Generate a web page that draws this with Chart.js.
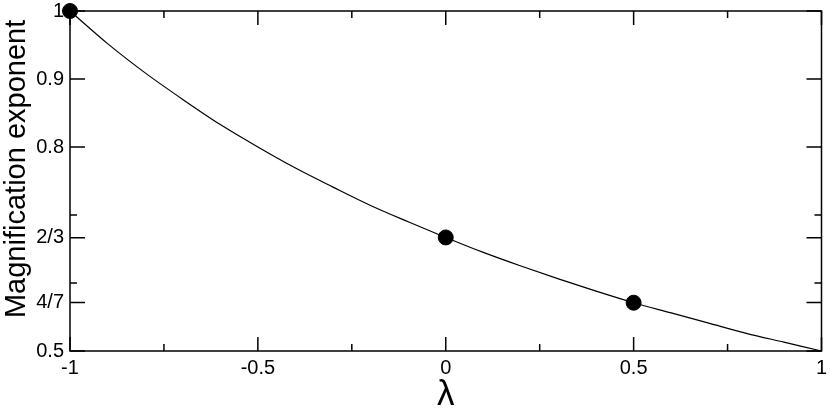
<!DOCTYPE html>
<html>
<head>
<meta charset="utf-8">
<script src="https://cdn.jsdelivr.net/npm/chart.js@4/dist/chart.umd.min.js"></script>
<style>
  html, body { margin: 0; padding: 0; background: #fff; }
  #wrap { width: 830px; height: 411px; }
</style>
</head>
<body>
<div id="wrap"><canvas id="myChart"></canvas></div>
<script>
// curve
const lambdaValues = [-1, -0.9, -0.8, -0.7, -0.6, -0.5, -0.4, -0.3, -0.2, -0.1, 0, 0.1, 0.2, 0.3, 0.4, 0.5, 0.6, 0.7, 0.8, 0.9, 1];
const exponentValues = [1.000, 0.952, 0.909, 0.870, 0.833, 0.800, 0.769, 0.741, 0.714, 0.690, 0.667, 0.645, 0.625, 0.606, 0.588, 0.571, 0.556, 0.541, 0.526, 0.513, 0.500];

// the three marked points
const markLambda = [-1, 0, 0.5];
const markExponent = [1, 0.667, 0.571];

// ticks
const xMajorTicks = [-1, -0.5, 0, 0.5, 1];
const xMajorLabels = ['-1', '-0.5', '0', '0.5', '1'];
const xMinorTicks = [-0.75, -0.25, 0.25, 0.75];
const yMajorTicks = [0.5, 4 / 7, 2 / 3, 0.8, 0.9, 1];
const yMajorLabels = ['0.5', '4/7', '2/3', '0.8', '0.9', '1'];
const yMinorTicks = [0.6, 0.7];

const FONT = 'Liberation Sans, Arial, Helvetica, sans-serif';

// frame plus inward ticks on all four sides
const framePlugin = {
    id: 'frame',
    beforeDatasetsDraw(chart) {
        const { ctx, chartArea: a, scales: { x, y } } = chart;
        ctx.save();
        ctx.strokeStyle = '#000';
        ctx.lineWidth = 1.5;
        ctx.strokeRect(a.left, a.top, a.right - a.left, a.bottom - a.top);
        ctx.beginPath();
        const xt = (v, len) => {
            const px = x.getPixelForValue(v);
            ctx.moveTo(px, a.bottom); ctx.lineTo(px, a.bottom - len);
            ctx.moveTo(px, a.top); ctx.lineTo(px, a.top + len);
        };
        const yt = (v, len) => {
            const py = y.getPixelForValue(v);
            ctx.moveTo(a.left, py); ctx.lineTo(a.left + len, py);
            ctx.moveTo(a.right, py); ctx.lineTo(a.right - len, py);
        };
        xMajorTicks.forEach(v => xt(v, 14));
        xMinorTicks.forEach(v => xt(v, 7));
        yMajorTicks.forEach(v => yt(v, 15));
        yMinorTicks.forEach(v => yt(v, 7));
        ctx.stroke();
        ctx.restore();
    }
};

const ctx = document.getElementById('myChart').getContext('2d');
const myChart = new Chart(ctx, {
    type: 'scatter',
    data: {
        datasets: [{
            label: 'curve',
            data: lambdaValues.map((l, i) => ({ x: l, y: exponentValues[i] })),
            showLine: true,
            borderColor: '#000',
            borderWidth: 1.2,
            pointRadius: 0,
            cubicInterpolationMode: 'monotone',
            clip: false
        }, {
            label: 'points',
            data: markLambda.map((l, i) => ({ x: l, y: markExponent[i] })),
            showLine: false,
            backgroundColor: '#000',
            borderColor: '#000',
            pointRadius: 7.5,
            clip: false
        }]
    },
    options: {
        responsive: true,
        maintainAspectRatio: false,
        animation: false,
        layout: { padding: { top: 11, right: 7, left: 0, bottom: 0 } },
        plugins: { legend: { display: false }, tooltip: { enabled: false } },
        scales: {
            x: {
                type: 'linear',
                min: -1,
                max: 1,
                afterFit: s => { s.height = 60; s.paddingLeft = 0; s.paddingRight = 0; },
                afterBuildTicks: s => { s.ticks = xMajorTicks.map(v => ({ value: v })); },
                grid: { display: false, drawTicks: false },
                border: { display: false },
                ticks: {
                    autoSkip: false,
                    maxRotation: 0,
                    padding: 5,
                    color: '#000',
                    font: { family: FONT, size: 20 },
                    callback: (v) => xMajorLabels[xMajorTicks.indexOf(v)]
                },
                title: {
                    display: true,
                    text: 'λ',
                    color: '#000',
                    padding: 0,
                    font: { family: FONT, size: 35, lineHeight: 0.9 }
                }
            },
            y: {
                type: 'linear',
                min: 0.5,
                max: 1,
                afterFit: s => { s.width = 70; s.paddingTop = 0; s.paddingBottom = 0; },
                afterBuildTicks: s => { s.ticks = yMajorTicks.map(v => ({ value: v })); },
                grid: { display: false, drawTicks: false },
                border: { display: false },
                ticks: {
                    autoSkip: false,
                    padding: 6,
                    color: '#000',
                    font: { family: FONT, size: 20 },
                    callback: (v) => yMajorLabels[yMajorTicks.indexOf(v)]
                },
                title: {
                    display: true,
                    text: '   Magnification exponent',
                    color: '#000',
                    padding: 0,
                    font: { family: FONT, size: 29 }
                }
            }
        }
    },
    plugins: [framePlugin]
});
</script>
</body>
</html>
